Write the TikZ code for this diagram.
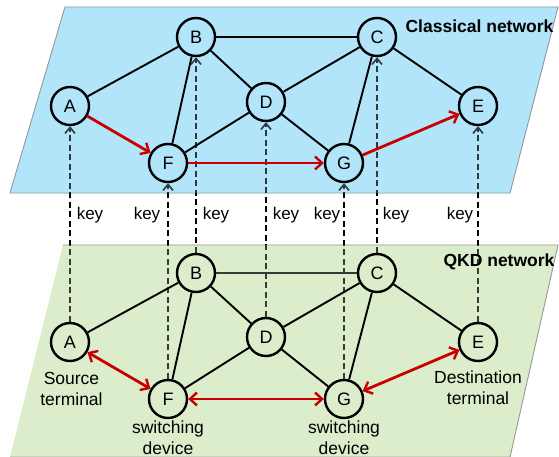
\documentclass[tikz,border=0pt]{standalone}
\usepackage{fontspec}
\setmainfont{Liberation Sans}
\usetikzlibrary{arrows.meta}
\definecolor{cblue}{RGB}{178,228,250}
\definecolor{cgreen}{RGB}{220,237,204}
\definecolor{cred}{RGB}{200,0,0}
\definecolor{cborder}{RGB}{140,140,140}
\pgfdeclarelayer{bg}
\pgfdeclarelayer{mid}
\pgfsetlayers{bg,mid,main}
\begin{document}
\begin{tikzpicture}[x=1pt,y=-1pt,
  nd/.style={circle,draw,line width=2.4pt,minimum size=38pt,inner sep=0pt,font=\fontsize{18}{20}\selectfont},
  edge/.style={line width=1.9pt},
  keyarrow/.style={line width=2pt,dash pattern=on 6pt off 3.5pt,-{Straight Barb[length=6pt,width=10pt,line width=1.6pt]}},
  redarrow/.style={line width=2.8pt,draw=cred,-{Straight Barb[length=7pt,width=13pt,line width=2.4pt]}},
  redboth/.style={line width=2.8pt,draw=cred,{Straight Barb[length=7pt,width=13pt,line width=2.4pt]}-{Straight Barb[length=7pt,width=13pt,line width=2.4pt]}},
  keylab/.style={font=\fontsize{17}{20}\selectfont,inner sep=0pt},
  desc/.style={font=\fontsize{17.5}{21}\selectfont,align=center,inner sep=0pt},
  title/.style={font=\bfseries\fontsize{17.5}{21}\selectfont,inner sep=0pt},
  layer/.style={draw=cborder,line width=0.9pt}
]
\useasboundingbox (0,0) rectangle (559,457);

% top layer nodes
\node[nd] (At) at (70,106) {A};
\node[nd] (Bt) at (196,37) {B};
\node[nd] (Ct) at (377,37) {C};
\node[nd] (Dt) at (266,102) {D};
\node[nd] (Et) at (478,106) {E};
\node[nd] (Ft) at (168,163) {F};
\node[nd] (Gt) at (344,163) {G};

% bottom layer nodes
\node[nd] (Ab) at (70,342) {A};
\node[nd] (Bb) at (196,273) {B};
\node[nd] (Cb) at (377,273) {C};
\node[nd] (Db) at (266,337) {D};
\node[nd] (Eb) at (478,342) {E};
\node[nd] (Fb) at (168,399) {F};
\node[nd] (Gb) at (344,399) {G};

\begin{pgfonlayer}{bg}
  \fill[cblue] (65,7) -- (558,7) -- (510,193) -- (10,193) -- cycle;
  \fill[cgreen] (63,245) -- (558,245) -- (510,457) -- (10,457) -- cycle;
  \draw[layer] (65,7) -- (558,7) -- (510,193) -- (10,193) -- cycle;
  \draw[layer] (63,245) -- (558,245) -- (510,457) -- (10,457);
  \foreach \n in {A,B,C,D,E,F,G}{
    \draw[keyarrow] (\n b.north) -- (\n t.south);
  }
  \draw[edge] (Bb) -- (Cb);
\end{pgfonlayer}
\begin{pgfonlayer}{mid}
  \fill[cblue,fill opacity=0.25] (65,7) -- (558,7) -- (510,193) -- (10,193) -- cycle;
  \fill[cgreen,fill opacity=0.25] (63,245) -- (558,245) -- (510,457) -- (10,457) -- cycle;
\end{pgfonlayer}

% top edges
\draw[edge] (At) -- (Bt);
\draw[edge] (Bt) -- (Ct);
\draw[edge] (Bt) -- (Dt);
\draw[edge] (Bt) -- (Ft);
\draw[edge] (Dt) -- (Ft);
\draw[edge] (Dt) -- (Ct);
\draw[edge] (Dt) -- (Gt);
\draw[edge] (Gt) -- (Ct);
\draw[edge] (Ct) -- (Et);
\draw[redarrow] (At) -- (Ft);
\draw[redarrow] (Ft) -- (Gt);
\draw[redarrow] (Gt) -- (Et);

% bottom edges
\draw[edge] (Ab) -- (Bb);
\draw[edge] (Bb) -- (Db);
\draw[edge] (Bb) -- (Fb);
\draw[edge] (Db) -- (Fb);
\draw[edge] (Db) -- (Cb);
\draw[edge] (Db) -- (Gb);
\draw[edge] (Gb) -- (Cb);
\draw[edge] (Cb) -- (Eb);
\draw[redboth] (Ab) -- (Fb);
\draw[redboth] (Fb) -- (Gb);
\draw[redboth] (Gb) -- (Eb);

% key labels
\node[keylab] (kA) at (90,215) {key};
\node[keylab] (kF) at (147,215) {key};
\node[keylab] (kB) at (216,215) {key};
\node[keylab] (kD) at (286,215) {key};
\node[keylab] (kG) at (327,215) {key};
\node[keylab] (kC) at (396,215) {key};
\node[keylab] (kE) at (460,215) {key};

% titles
\node[title] (tc) at (479.5,26) {Classical network};
\node[title] (tq) at (499,262) {QKD network};

% descriptions
\node[desc] (dA) at (71.5,389) {Source\\terminal};
\node[desc] (dF) at (168,437.5) {switching\\device};
\node[desc] (dG) at (344,437.5) {switching\\device};
\node[desc] (dE) at (478,388) {Destination\\terminal};
\end{tikzpicture}
\end{document}
